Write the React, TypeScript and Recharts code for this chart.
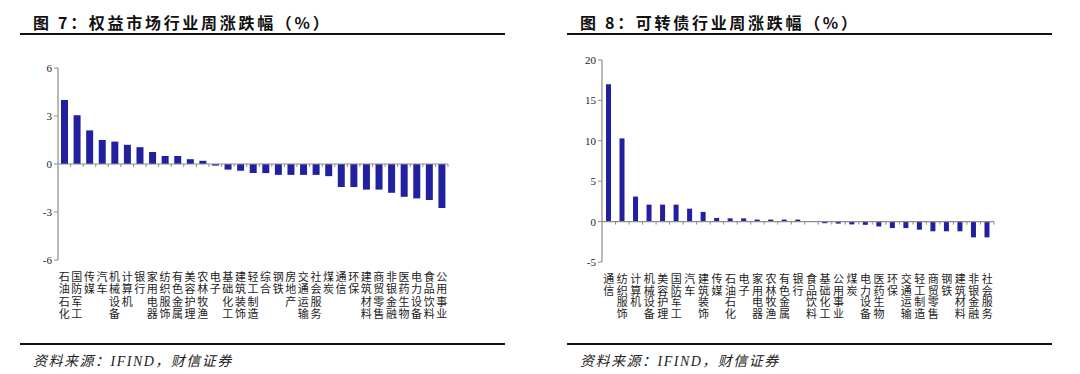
import { BarChart, Bar, XAxis, YAxis, ReferenceLine } from 'recharts'

// 图7：权益市场行业周涨跌幅
const equityCategories = [
  '石油石化', '国防军工', '传媒', '汽车', '机械设备', '计算机', '银行', '家用电器',
  '纺织服饰', '有色金属', '美容护理', '农林牧渔', '电子', '基础化工', '建筑装饰', '轻工制造',
  '综合', '钢铁', '房地产', '交通运输', '社会服务', '煤炭', '通信', '环保',
  '建筑材料', '商贸零售', '非银金融', '医药生物', '电力设备', '食品饮料', '公用事业',
]
const equityValues = [
  4.0, 3.05, 2.1, 1.5, 1.4, 1.2, 1.05, 0.75,
  0.5, 0.5, 0.3, 0.2, -0.1, -0.35, -0.42, -0.57,
  -0.57, -0.68, -0.68, -0.68, -0.68, -0.76, -1.44, -1.44,
  -1.6, -1.6, -1.8, -2.05, -2.15, -2.25, -2.75,
]
const equityTicks = [6, 3, 0, -3, -6]

// 图8：可转债行业周涨跌幅
const cbCategories = [
  '通信', '纺织服饰', '计算机', '机械设备', '美容护理', '国防军工', '汽车', '建筑装饰',
  '传媒', '石油石化', '电子', '家用电器', '农林牧渔', '有色金属', '银行', '食品饮料',
  '基础化工', '公用事业', '煤炭', '电力设备', '医药生物', '环保', '交通运输', '轻工制造',
  '商贸零售', '钢铁', '建筑材料', '非银金融', '社会服务',
]
const cbValues = [
  17.0, 10.3, 3.1, 2.1, 2.1, 2.1, 1.6, 1.2,
  0.45, 0.4, 0.4, 0.25, 0.25, 0.25, 0.25, 0.05,
  -0.2, -0.25, -0.35, -0.4, -0.6, -0.8, -0.8, -1.0,
  -1.2, -1.2, -1.2, -1.95, -1.95,
]
const cbTicks = [20, 15, 10, 5, 0, -5]

const BAR_COLOR = '#21219f'
const AXIS_COLOR = '#8c8c8c'
const CJK = '"Noto Sans CJK SC", sans-serif'
const SERIF = '"Liberation Serif", "DejaVu Serif", serif'

const equityData = equityCategories.map((name, i) => ({ name, value: equityValues[i] }))
const cbData = cbCategories.map((name, i) => ({ name, value: cbValues[i] }))

// vertical category label, one character per line
function VerticalTick(props: any) {
  const { x, y, payload, lineHeight } = props
  const chars = String(payload.value).split('')
  return (
    <text x={x} y={y} textAnchor="middle" fontSize={11} fontFamily={CJK} fill="#222">
      {chars.map((c: string, i: number) => (
        <tspan key={i} x={x} dy={i === 0 ? 13 : lineHeight}>
          {c}
        </tspan>
      ))}
    </text>
  )
}

// zero line with small tick marks at category boundaries
function ZeroLine(props: any) {
  const { x1, x2, y1, count } = props
  if (x1 == null || x2 == null || y1 == null) return null
  const step = (x2 - x1) / count
  const marks = []
  for (let i = 1; i <= count; i++) {
    const xx = x1 + i * step
    marks.push(<line key={i} x1={xx} x2={xx} y1={y1} y2={y1 + 3} stroke={AXIS_COLOR} strokeWidth={1} />)
  }
  return (
    <g>
      <line x1={x1} x2={x2} y1={y1} y2={y1} stroke={AXIS_COLOR} strokeWidth={1.2} />
      {marks}
    </g>
  )
}

interface PanelProps {
  title: string
  data: { name: string; value: number }[]
  ticks: number[]
  yWidth: number
  rightMargin: number
  top: number
  plotHeight: number
  barSize: number
  lineHeight: number
  lineLeft: number
  titleLeft: number
}

function Panel({ title, data, ticks, yWidth, rightMargin, top, plotHeight, barSize, lineHeight, lineLeft, titleLeft }: PanelProps) {
  const xAxisHeight = 70
  return (
    <div style={{ position: 'relative', width: 540, height: 374 }}>
      <div
        style={{
          position: 'absolute', left: titleLeft, top: 12, fontFamily: CJK, fontWeight: 700,
          fontSize: 16, letterSpacing: 2.7, color: '#111', whiteSpace: 'nowrap', lineHeight: '20px',
        }}
      >
        {title}
      </div>
      <div style={{ position: 'absolute', left: lineLeft, top: 33, width: 485, height: 2, background: '#111' }} />
      <div style={{ position: 'absolute', left: 0, top: 0 }}>
        <BarChart
          width={540}
          height={top + plotHeight + xAxisHeight}
          data={data}
          margin={{ top, right: rightMargin, left: 0, bottom: 0 }}
          barSize={barSize}
        >
          <XAxis
            dataKey="name"
            interval={0}
            axisLine={false}
            tickLine={false}
            height={xAxisHeight}
            tick={<VerticalTick lineHeight={lineHeight} />}
          />
          <YAxis
            width={yWidth}
            domain={[ticks[ticks.length - 1], ticks[0]]}
            ticks={ticks}
            interval={0}
            axisLine={{ stroke: AXIS_COLOR, strokeWidth: 1.2 }}
            tickLine={{ stroke: AXIS_COLOR }}
            tickSize={4}
            tick={{ fontSize: 11, fontFamily: SERIF, fill: '#222' }}
          />
          <ReferenceLine y={0} shape={<ZeroLine count={data.length} />} />
          <Bar dataKey="value" fill={BAR_COLOR} isAnimationActive={false} />
        </BarChart>
      </div>
      <div style={{ position: 'absolute', left: lineLeft, top: 343, width: 485, height: 2, background: '#111' }} />
      <div
        style={{
          position: 'absolute', left: titleLeft, top: 353, fontFamily: `${SERIF.split(',')[0]}, ${CJK}`,
          fontStyle: 'italic', fontSize: 14, letterSpacing: 1.5, color: '#222', whiteSpace: 'nowrap', lineHeight: '18px',
        }}
      >
        资料来源：IFIND，财信证券
      </div>
    </div>
  )
}

export default function App() {
  return (
    <div style={{ position: 'absolute', left: 0, top: 0, width: 1080, height: 374, background: '#fff', display: 'flex' }}>
      <Panel
        title="图 7：权益市场行业周涨跌幅（%）"
        data={equityData}
        ticks={equityTicks}
        yWidth={58}
        rightMargin={92}
        top={68}
        plotHeight={192}
        barSize={7}
        lineHeight={12.3}
        lineLeft={20}
        titleLeft={33}
      />
      <Panel
        title="图 8：可转债行业周涨跌幅（%）"
        data={cbData}
        ticks={cbTicks}
        yWidth={62}
        rightMargin={86}
        top={60}
        plotHeight={202}
        barSize={5}
        lineHeight={11.7}
        lineLeft={27}
        titleLeft={40}
      />
    </div>
  )
}
